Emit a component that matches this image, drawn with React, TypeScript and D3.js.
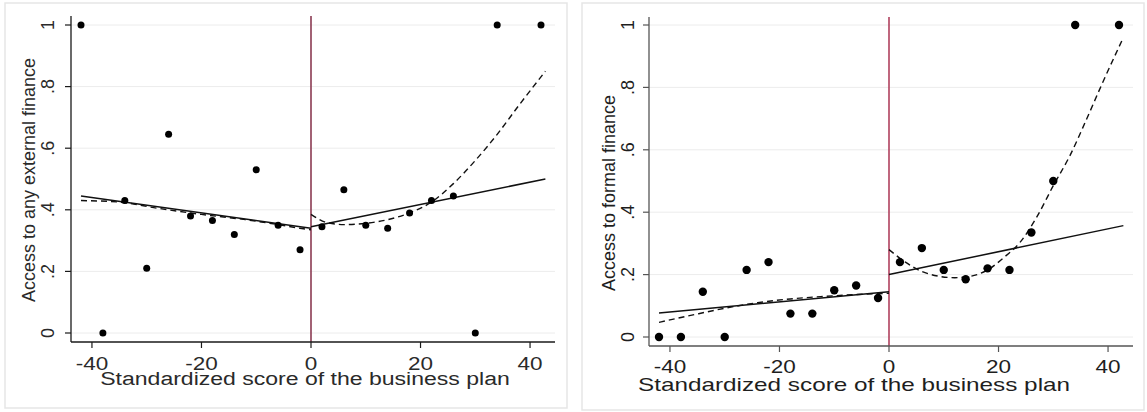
import React from "react";
import { scaleLinear, line, curveMonotoneX } from "d3";

// bin midpoints of the standardized score
const binsX = [-42, -38, -34, -30, -26, -22, -18, -14, -10, -6, -2, 2, 6, 10, 14, 18, 22, 26, 30, 34, 42];

// left panel: access to any external finance
const anyFinance = [1, 0, 0.43, 0.21, 0.645, 0.38, 0.365, 0.32, 0.53, 0.35, 0.27, 0.345, 0.465, 0.35, 0.34, 0.39, 0.43, 0.445, 0, 1, 1];
const anyLinLeft = [[-42, 0.445], [0, 0.34]];
const anyLinRight = [[0, 0.345], [42.8, 0.5]];
const anyPolyLeft = [[-42, 0.43], [-35, 0.425], [-28, 0.405], [-20, 0.385], [-12, 0.368], [-6, 0.352], [-2, 0.34], [0, 0.335]];
const anyPolyRight = [[0, 0.385], [3, 0.358], [6, 0.352], [10, 0.356], [14, 0.368], [18, 0.39], [22, 0.425], [26, 0.485], [30, 0.56], [34, 0.645], [38, 0.74], [42.8, 0.85]];

// right panel: access to formal finance
const formalFinance = [0, 0, 0.145, 0, 0.215, 0.24, 0.075, 0.075, 0.15, 0.165, 0.125, 0.24, 0.285, 0.215, 0.185, 0.22, 0.215, 0.335, 0.5, 1, 1];
const formalLinLeft = [[-42, 0.077], [0, 0.145]];
const formalLinRight = [[0, 0.2], [42.8, 0.357]];
const formalPolyLeft = [[-42, 0.047], [-36, 0.07], [-30, 0.092], [-24, 0.11], [-18, 0.122], [-12, 0.13], [-6, 0.136], [0, 0.14]];
const formalPolyRight = [[0, 0.28], [3, 0.24], [6, 0.21], [9, 0.195], [12, 0.19], [15, 0.195], [18, 0.215], [21, 0.255], [24, 0.305], [27, 0.385], [30, 0.485], [33, 0.58], [36, 0.695], [39, 0.815], [42.8, 0.96]];

const xTicks = [-40, -20, 0, 20, 40];
const yTicks = [0, 0.2, 0.4, 0.6, 0.8, 1];
const yTickLabels = ["0", ".2", ".4", ".6", ".8", "1"];
const xTitle = "Standardized score of the business plan";

type PanelProps = {
  box: [number, number, number, number];
  xRange: [number, number];
  yRange: [number, number];
  axisX: [number, number];
  axisY: number;
  axisTop: number;
  yTitle: string;
  yTitleX: number;
  yTitleY: number;
  tickLabelX: number;
  values: number[];
  linLeft: number[][];
  linRight: number[][];
  polyLeft: number[][];
  polyRight: number[][];
  dotR: number;
  ink: string;
  axisInk: string;
  refColor: string;
  titleY: number;
  titleX: number;
  titleScale: number;
  tickY: number;
};

const Panel: React.FC<PanelProps> = (p) => {
  const x = scaleLinear().domain([-42, 42]).range(p.xRange);
  const y = scaleLinear().domain([0, 1]).range(p.yRange);
  const path = line<number[]>()
    .x((d) => x(d[0]))
    .y((d) => y(d[1]))
    .curve(curveMonotoneX);
  const font = "Liberation Sans, Arial, sans-serif";
  const [bx, by, bw, bh] = p.box;
  return (
    <g fontFamily={font}>
      <rect x={bx} y={by} width={bw} height={bh} fill="#fff" stroke="#e6e6e6" strokeWidth={1.5} />
      {/* gridlines */}
      {yTicks.map((t) => (
        <line key={"g" + t} x1={p.axisX[0]} x2={p.axisX[1]} y1={y(t)} y2={y(t)} stroke="#ececec" strokeWidth={1} />
      ))}
      {/* reference line at the cutoff */}
      <line x1={x(0)} x2={x(0)} y1={p.axisTop} y2={p.axisY} stroke={p.refColor} strokeWidth={1.6} />
      {/* axes */}
      <line x1={p.axisX[0]} x2={p.axisX[0]} y1={p.axisTop} y2={p.axisY} stroke={p.axisInk} strokeWidth={1.3} />
      <line x1={p.axisX[0]} x2={p.axisX[1]} y1={p.axisY} y2={p.axisY} stroke={p.axisInk} strokeWidth={1.3} />
      {yTicks.map((t, i) => (
        <g key={"y" + t}>
          <line x1={p.axisX[0] - 6} x2={p.axisX[0]} y1={y(t)} y2={y(t)} stroke={p.axisInk} strokeWidth={1.2} />
          <text
            transform={`translate(${p.tickLabelX},${y(t)}) rotate(-90)`}
            textAnchor="middle"
            dy="0.35em"
            fontSize={18}
            fill={p.ink}
          >
            {yTickLabels[i]}
          </text>
        </g>
      ))}
      {xTicks.map((t) => (
        <g key={"x" + t}>
          <line x1={x(t)} x2={x(t)} y1={p.axisY} y2={p.axisY + 6} stroke={p.axisInk} strokeWidth={1.2} />
          <text
            transform={`translate(${x(t)},${p.tickY}) scale(1.25,1)`}
            textAnchor="middle"
            fontSize={18}
            fill={p.ink}
          >
            {t}
          </text>
        </g>
      ))}
      <text
        transform={`translate(${p.titleX},${p.titleY}) scale(${p.titleScale},1)`}
        textAnchor="middle"
        fontSize={18}
        fill={p.ink}
      >
        {xTitle}
      </text>
      <text
        transform={`translate(${p.yTitleX},${p.yTitleY}) rotate(-90)`}
        textAnchor="middle"
        dy="0.35em"
        fontSize={18}
        fill={p.ink}
      >
        {p.yTitle}
      </text>
      {/* fitted lines */}
      <path d={path(p.linLeft) || ""} fill="none" stroke="#111" strokeWidth={1.5} />
      <path d={path(p.linRight) || ""} fill="none" stroke="#111" strokeWidth={1.5} />
      <path d={path(p.polyLeft) || ""} fill="none" stroke="#111" strokeWidth={1.4} strokeDasharray="6,4" />
      <path d={path(p.polyRight) || ""} fill="none" stroke="#111" strokeWidth={1.4} strokeDasharray="6,4" />
      {/* binned means */}
      {p.values.map((v, i) => (
        <circle key={"d" + i} cx={x(binsX[i])} cy={y(v)} r={p.dotR} fill="#000" />
      ))}
    </g>
  );
};

export default function App() {
  return (
    <svg width={1147} height={412} style={{ position: "absolute", left: 0, top: 0, background: "#fff" }}>
      <Panel
        box={[5, 3, 562, 405]}
        xRange={[81, 541]}
        yRange={[333, 25]}
        axisX={[71, 555]}
        axisY={342}
        axisTop={16}
        yTitle="Access to any external finance"
        yTitleX={29}
        yTitleY={180}
        tickLabelX={48}
        values={anyFinance}
        linLeft={anyLinLeft}
        linRight={anyLinRight}
        polyLeft={anyPolyLeft}
        polyRight={anyPolyRight}
        dotR={3.5}
        ink="#2a2a2a"
        axisInk="#1a1a1a"
        refColor="#8b3a52"
        titleX={305}
        titleY={385}
        titleScale={1.28}
        tickY={370}
      />
      <Panel
        box={[582, 3, 562, 407]}
        xRange={[659, 1119]}
        yRange={[337, 25]}
        axisX={[649, 1133]}
        axisY={346}
        axisTop={17}
        yTitle="Access to formal finance"
        yTitleX={609}
        yTitleY={193}
        tickLabelX={628}
        values={formalFinance}
        linLeft={formalLinLeft}
        linRight={formalLinRight}
        polyLeft={formalPolyLeft}
        polyRight={formalPolyRight}
        dotR={4.2}
        ink="#1e1e1e"
        axisInk="#555"
        refColor="#b0405e"
        titleX={854}
        titleY={391}
        titleScale={1.35}
        tickY={373}
      />
    </svg>
  );
}
